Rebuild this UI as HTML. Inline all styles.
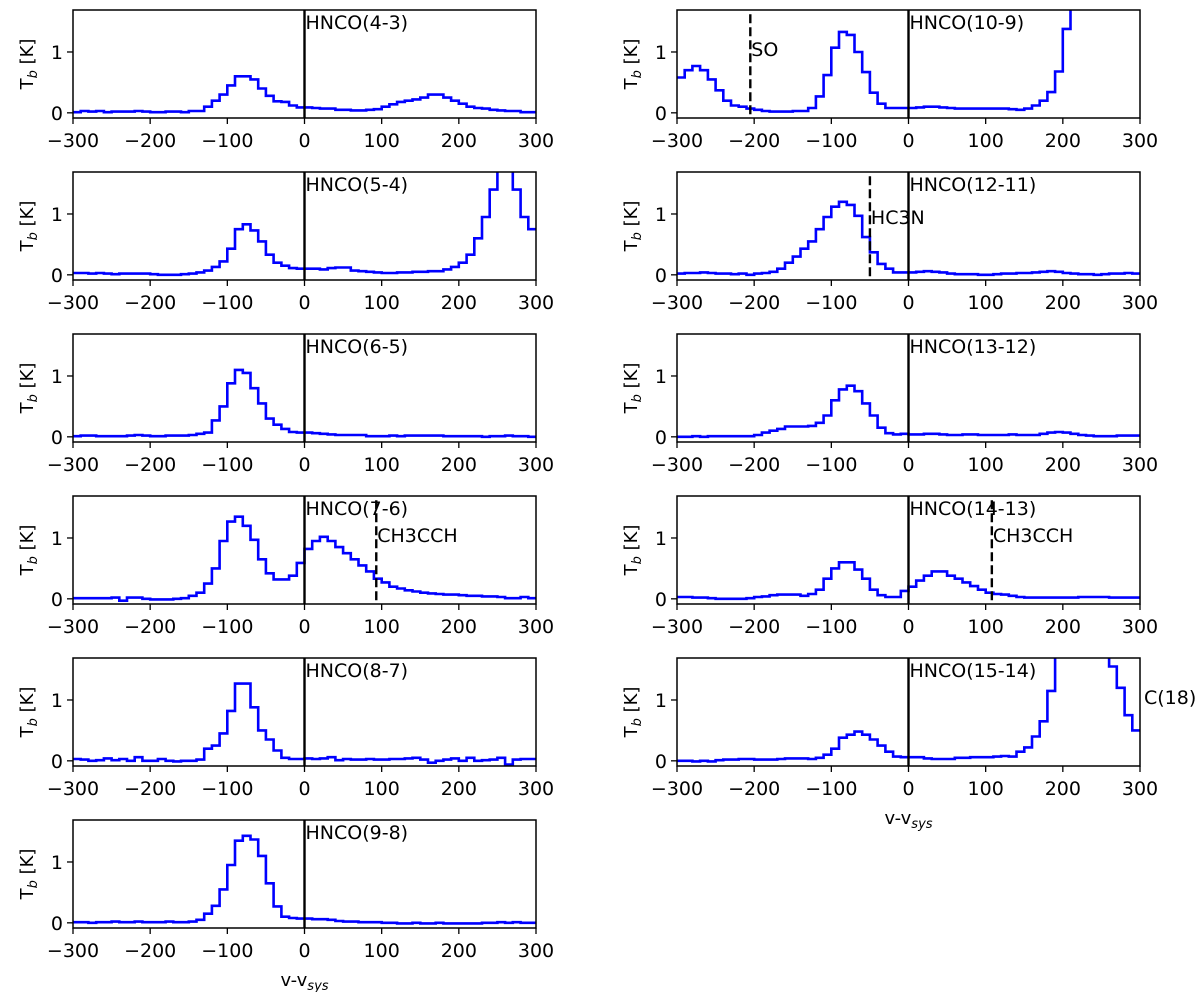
<!DOCTYPE html>
<html><head><meta charset="utf-8"><style>
body{margin:0;background:#fff;}
svg{display:block;font-family:"DejaVu Sans","Liberation Sans",sans-serif;}
</style></head><body>
<svg id="fig" width="1200" height="992" viewBox="0 0 1200 992"></svg>
<script>
const xTicks=[-300,-200,-100,0,100,200,300];
const yTicks=[0,1];
const binStart=-300, binWidth=10;
const hnco43=[0.01,0.03,0.02,0.03,0.01,0.02,0.02,0.02,0.03,0.02,0.01,0.01,0.02,0.02,0.01,0.03,0.03,0.1,0.2,0.3,0.45,0.6,0.6,0.55,0.4,0.28,0.19,0.18,0.12,0.09,0.09,0.08,0.07,0.07,0.05,0.05,0.04,0.04,0.05,0.06,0.1,0.14,0.18,0.2,0.22,0.25,0.3,0.3,0.25,0.2,0.15,0.1,0.08,0.07,0.05,0.04,0.03,0.03,0.01,0.01];
const hnco54=[0.03,0.03,0.02,0.03,0.02,0.01,0.02,0.02,0.02,0.02,0.01,0.0,0.0,0.0,0.01,0.02,0.04,0.07,0.13,0.22,0.43,0.75,0.83,0.73,0.55,0.33,0.2,0.15,0.11,0.1,0.1,0.1,0.09,0.11,0.12,0.12,0.07,0.06,0.05,0.04,0.03,0.03,0.04,0.04,0.05,0.05,0.06,0.06,0.09,0.13,0.2,0.33,0.6,0.95,1.4,3,3,1.4,0.95,0.75];
const hnco65=[0.01,0.02,0.02,0.01,0.01,0.01,0.01,0.02,0.03,0.02,0.01,0.01,0.02,0.02,0.02,0.03,0.05,0.07,0.27,0.5,0.88,1.1,1.05,0.8,0.55,0.3,0.2,0.13,0.08,0.07,0.07,0.06,0.05,0.04,0.03,0.03,0.03,0.03,0.01,0.01,0.01,0.02,0.01,0.02,0.02,0.02,0.02,0.02,0.01,0.01,0.01,0.01,0.01,0.0,0.01,0.01,0.02,0.01,0.01,0.0];
const hnco76=[0.01,0.01,0.01,0.01,0.01,0.02,-0.03,0.02,0.02,0.0,-0.01,-0.01,-0.01,0.0,0.01,0.05,0.1,0.25,0.5,0.95,1.27,1.35,1.2,0.97,0.65,0.42,0.32,0.32,0.38,0.59,0.82,0.95,1.02,0.95,0.85,0.75,0.65,0.55,0.45,0.33,0.27,0.2,0.17,0.14,0.12,0.1,0.09,0.08,0.07,0.07,0.06,0.05,0.05,0.04,0.04,0.03,0.01,0.01,0.03,0.01];
const hnco87=[0.03,0.02,0.0,0.01,0.04,0.01,0.03,0.0,0.06,0.0,0.0,0.03,0.0,-0.01,0.0,0.0,0.02,0.2,0.25,0.45,0.82,1.27,1.27,0.88,0.5,0.35,0.17,0.05,0.03,0.03,0.04,0.03,0.04,0.06,0.01,0.03,0.02,0.02,0.03,0.02,0.02,0.03,0.03,0.04,0.05,0.02,-0.03,0.0,0.02,0.04,0.0,0.05,0.0,0.01,0.02,0.05,-0.06,0.02,0.03,0.03];
const hnco98=[0.01,0.01,0.0,0.01,0.01,0.02,0.01,0.01,0.02,0.01,0.01,0.01,0.02,0.01,0.01,0.02,0.05,0.15,0.28,0.55,0.95,1.35,1.43,1.37,1.1,0.65,0.27,0.1,0.08,0.07,0.07,0.06,0.06,0.05,0.03,0.02,0.02,0.01,0.01,0.01,0.0,0.0,-0.01,-0.01,0.0,-0.01,-0.01,0.0,-0.01,-0.01,-0.01,-0.01,-0.01,0.0,0.0,0.01,0.0,0.01,0.0,0.0];
const hnco109=[0.58,0.7,0.77,0.7,0.55,0.37,0.2,0.12,0.1,0.07,0.05,0.03,0.02,0.02,0.02,0.03,0.03,0.08,0.27,0.62,1.07,1.33,1.28,1.0,0.67,0.33,0.15,0.08,0.08,0.08,0.08,0.09,0.1,0.1,0.09,0.08,0.07,0.07,0.07,0.07,0.07,0.07,0.07,0.06,0.05,0.07,0.12,0.2,0.34,0.68,1.38,3,3,3,3,3,3,3,3,3];
const hnco1211=[0.02,0.03,0.03,0.04,0.03,0.02,0.02,0.01,0.02,0.0,0.02,0.03,0.05,0.1,0.2,0.3,0.43,0.55,0.75,0.95,1.12,1.2,1.15,0.97,0.62,0.37,0.18,0.1,0.04,0.04,0.04,0.05,0.06,0.05,0.04,0.02,0.01,0.01,0.01,0.0,0.0,0.01,0.02,0.02,0.03,0.03,0.04,0.05,0.06,0.05,0.03,0.02,0.01,0.01,0.0,0.01,0.02,0.02,0.03,0.02];
const hnco1312=[0.0,0.0,0.01,0.0,0.01,0.01,0.01,0.01,0.01,0.01,0.03,0.07,0.1,0.13,0.17,0.17,0.17,0.18,0.23,0.35,0.6,0.78,0.84,0.75,0.55,0.35,0.15,0.06,0.04,0.05,0.04,0.04,0.05,0.05,0.04,0.03,0.03,0.04,0.04,0.03,0.03,0.03,0.03,0.04,0.03,0.03,0.03,0.05,0.07,0.08,0.07,0.05,0.03,0.02,0.01,0.01,0.01,0.02,0.02,0.02];
const hnco1413=[0.03,0.03,0.02,0.02,0.01,0.0,0.0,0.0,0.0,0.01,0.03,0.04,0.06,0.07,0.07,0.07,0.05,0.08,0.15,0.33,0.5,0.6,0.6,0.48,0.33,0.15,0.06,0.03,0.03,0.13,0.2,0.3,0.38,0.45,0.45,0.38,0.33,0.27,0.21,0.15,0.1,0.08,0.07,0.05,0.03,0.02,0.02,0.02,0.02,0.02,0.02,0.02,0.03,0.03,0.03,0.03,0.02,0.02,0.02,0.02];
const hnco1514=[0.0,0.0,-0.01,0.0,-0.01,0.01,0.02,0.02,0.03,0.03,0.02,0.02,0.02,0.03,0.04,0.04,0.04,0.03,0.05,0.1,0.2,0.38,0.43,0.48,0.43,0.35,0.25,0.15,0.07,0.06,0.06,0.06,0.04,0.03,0.03,0.03,0.05,0.05,0.06,0.06,0.06,0.07,0.08,0.07,0.15,0.22,0.4,0.65,1.15,1.8,3,3,3,3,3,1.75,1.55,1.2,0.75,0.5];

const panels=[
 {col:0,row:0,label:"HNCO(4-3)",data:hnco43},
 {col:0,row:1,label:"HNCO(5-4)",data:hnco54},
 {col:0,row:2,label:"HNCO(6-5)",data:hnco65},
 {col:0,row:3,label:"HNCO(7-6)",data:hnco76,mark:{v:93,t:"CH3CCH",ty:1.05}},
 {col:0,row:4,label:"HNCO(8-7)",data:hnco87},
 {col:0,row:5,label:"HNCO(9-8)",data:hnco98,xlabel:true},
 {col:1,row:0,label:"HNCO(10-9)",data:hnco109,mark:{v:-205,t:"SO",ty:1.05}},
 {col:1,row:1,label:"HNCO(12-11)",data:hnco1211,mark:{v:-50,t:"HC3N",ty:0.95}},
 {col:1,row:2,label:"HNCO(13-12)",data:hnco1312},
 {col:1,row:3,label:"HNCO(14-13)",data:hnco1413,mark:{v:108,t:"CH3CCH",ty:1.05}},
 {col:1,row:4,label:"HNCO(15-14)",data:hnco1514,xlabel:true,extra:"C(18)"}
];
const NS="http://www.w3.org/2000/svg";
const svg=document.getElementById('fig');
function mk(tag,attrs,parent){const e=document.createElementNS(NS,tag);for(const k in attrs)e.setAttribute(k,attrs[k]);(parent||svg).appendChild(e);return e;}
const YMIN=-0.085,YMAX=1.69,W=463,H=108;
panels.forEach((p,pi)=>{
  const x0=p.col===0?73:677, y0=10+p.row*162;
  const g=mk('g',{});
  
  
  const sx=v=>x0+(v+300)/600*W, sy=t=>y0+H-(t-YMIN)/(YMAX-YMIN)*H;
  const cid='clip'+pi;
  const cp=mk('clipPath',{id:cid},g);mk('rect',{x:x0,y:y0,width:W,height:H},cp);
  let d='';
  p.data.forEach((v,i)=>{const xa=sx(binStart+i*binWidth),xb=sx(binStart+(i+1)*binWidth),y=sy(v);
    d+=(i===0?'M':'L')+xa.toFixed(1)+','+y.toFixed(1)+'L'+xb.toFixed(1)+','+y.toFixed(1);});
  const path=mk('path',{d:d,fill:'none',stroke:'#0000ff','stroke-width':2.6,'clip-path':'url(#'+cid+')'},g);
  
  
  const zl=mk('line',{x1:sx(0),x2:sx(0),y1:y0,y2:y0+H,stroke:'#000','stroke-width':2.4},g);
  
  
  if(p.mark){
    const ml=mk('line',{x1:sx(p.mark.v),x2:sx(p.mark.v),y1:sy(1.62),y2:y0+H,stroke:'#000','stroke-width':2.4,'stroke-dasharray':'9,4'},g);
    
    
    const mt=mk('text',{x:sx(p.mark.v)+1,y:sy(p.mark.ty)+7,'font-size':19},g);mt.textContent=p.mark.t;
    
    
  }
  const lt=mk('text',{x:sx(0)+1,y:y0+19,'font-size':19},g);lt.textContent=p.label;
  
  
  if(p.extra){const et=mk('text',{x:x0+W+4,y:sy(1.05)+7,'font-size':19},g);et.textContent=p.extra;
    
    }
  const fr=mk('rect',{x:x0,y:y0,width:W,height:H,fill:'none',stroke:'#000','stroke-width':1.5},g);
  
  
  xTicks.forEach(v=>{const x=sx(v);mk('line',{x1:x,x2:x,y1:y0+H,y2:y0+H+6,stroke:'#000','stroke-width':1.3},g);
    const t=mk('text',{x:x,y:y0+H+29,'font-size':19,'text-anchor':'middle'},g);t.textContent=v<0?'\u2212'+(-v):String(v);
    
    });
  yTicks.forEach(v=>{const y=sy(v);mk('line',{x1:x0-6,x2:x0,y1:y,y2:y,stroke:'#000','stroke-width':1.3},g);
    const t=mk('text',{x:x0-10,y:y+7,'font-size':19,'text-anchor':'end'},g);t.textContent=String(v);
    
    });
  const yt=mk('text',{transform:'translate('+(x0-40)+','+(y0+H/2)+') rotate(-90)','font-size':18,'text-anchor':'middle'},g);
  yt.innerHTML='T<tspan font-size="13" dy="4" font-style="italic">b</tspan><tspan dy="-4"> [K]</tspan>';
  
  
  if(p.xlabel){const xt=mk('text',{x:x0+W/2,y:y0+H+58,'font-size':18,'text-anchor':'middle'},g);
    xt.innerHTML='v-v<tspan font-size="13" dy="4" font-style="italic">sys</tspan>';
    
    }
});
</script>
</body></html>
